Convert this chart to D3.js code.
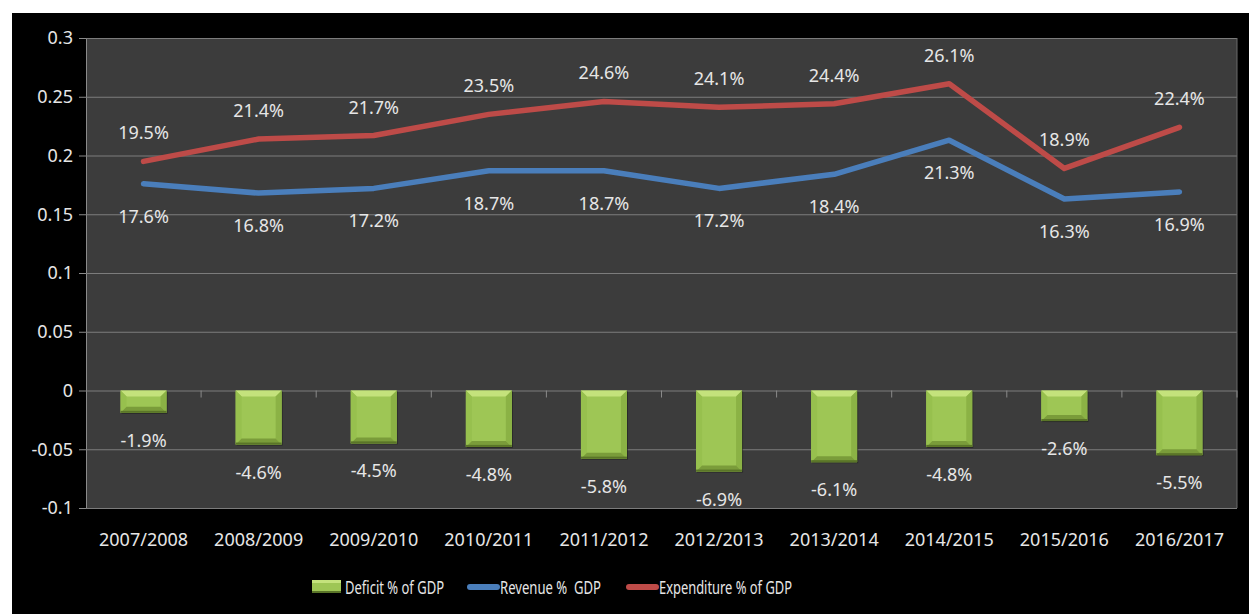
<!DOCTYPE html>
<html lang="en">
<head>
<meta charset="UTF-8">
<script src="https://d3js.org/d3.v7.min.js"></script>
<title>Deficit, Revenue and Expenditure % of GDP</title>
<style>
  body { margin: 0; background: #fff; }
  text { font-family: "Noto Sans", "Open Sans", sans-serif; fill: #e6e6e6; }
</style>
</head>
<body>
<div id="chart"></div>
<script>
// data
const years = ["2007/2008", "2008/2009", "2009/2010", "2010/2011", "2011/2012",
               "2012/2013", "2013/2014", "2014/2015", "2015/2016", "2016/2017"];
const deficit = [-1.9, -4.6, -4.5, -4.8, -5.8, -6.9, -6.1, -4.8, -2.6, -5.5];
const revenue = [17.6, 16.8, 17.2, 18.7, 18.7, 17.2, 18.4, 21.3, 16.3, 16.9];
const expenditure = [19.5, 21.4, 21.7, 23.5, 24.6, 24.1, 24.4, 26.1, 18.9, 22.4];
const yTicks = [-0.1, -0.05, 0, 0.05, 0.1, 0.15, 0.2, 0.25, 0.3];

const W = 1249, H = 614;
const margin = { top: 38, right: 12, bottom: 106, left: 86 };
const width = 1237 - margin.left;
const height = 508 - margin.top;

const svg = d3.select("#chart").append("svg")
    .attr("width", W).attr("height", H);

// black frame
svg.append("rect").attr("x", 12).attr("y", 13).attr("width", W - 12).attr("height", H - 13).attr("fill", "#000");

const g = svg.append("g").attr("transform", `translate(${margin.left},${margin.top})`);

const x = d3.scaleBand().domain(years).range([0, width]);
const y = d3.scaleLinear().domain([-0.1, 0.3]).range([height, 0]);

g.append("rect").attr("width", width).attr("height", height).attr("fill", "#3c3c3c");

// gridlines + y axis
const yAxis = g.append("g")
    .call(d3.axisLeft(y).tickValues(yTicks).tickSize(7).tickPadding(6).tickFormat(d => String(+d.toFixed(2))));
yAxis.select(".domain").attr("stroke", "#8a8a8a");
yAxis.selectAll(".tick line").attr("stroke", "#8a8a8a");
yAxis.selectAll(".tick text").attr("fill", "#e6e6e6").style("font-size", "18px");
yAxis.selectAll(".tick").append("line")
    .attr("x1", 0).attr("x2", width).attr("stroke", "#7c7c7c").attr("stroke-width", 1);
g.append("line").attr("x1", width).attr("x2", width).attr("y1", 0).attr("y2", height).attr("stroke", "#6a6a6a");

// category tick marks on zero line
g.selectAll(".ctick").data(years)
  .enter().append("line")
    .attr("x1", (d, i) => (i + 1) * x.step()).attr("x2", (d, i) => (i + 1) * x.step())
    .attr("y1", y(0)).attr("y2", y(0) + 7)
    .attr("stroke", "#8a8a8a");

// x labels
g.selectAll(".xlab").data(years).enter().append("text")
    .attr("x", d => x(d) + x.bandwidth() / 2)
    .attr("y", height + 38)
    .attr("text-anchor", "middle")
    .style("font-size", "18px")
    .text(d => d);

// bevelled bars
const barW = 46, bev = 6;
const bars = g.selectAll(".bar").data(deficit).enter().append("g").attr("class", "bar");
bars.each(function (d, i) {
  const x0 = x(years[i]) + x.bandwidth() / 2 - barW / 2, x1 = x0 + barW;
  const y0 = y(0), y1 = y(d / 100);
  const s = d3.select(this);
  s.append("rect").attr("x", x0 + 1).attr("y", y0 + 1).attr("width", barW).attr("height", y1 - y0)
    .attr("fill", "#1a1a1a").attr("opacity", 0.6);
  s.append("rect").attr("x", x0).attr("y", y0).attr("width", barW).attr("height", y1 - y0).attr("fill", "#9ec655");
  const poly = (pts, c) => s.append("polygon").attr("points", pts.map(p => p.join(",")).join(" ")).attr("fill", c);
  poly([[x0, y0], [x1, y0], [x1 - bev, y0 + bev], [x0 + bev, y0 + bev]], "#c4e27c");
  poly([[x0, y0], [x0 + bev, y0 + bev], [x0 + bev, y1 - bev], [x0, y1]], "#97c04e");
  poly([[x1, y0], [x1 - bev, y0 + bev], [x1 - bev, y1 - bev], [x1, y1]], "#8bb245");
  poly([[x0, y1], [x0 + bev, y1 - bev], [x1 - bev, y1 - bev], [x1, y1]], "#7a9c3a");
  s.append("rect").attr("x", x0).attr("y", y1 - 2).attr("width", barW).attr("height", 2).attr("fill", "#5a7528");
});
g.selectAll(".blab").data(deficit).enter().append("text")
    .attr("x", (d, i) => x(years[i]) + x.bandwidth() / 2)
    .attr("y", d => y(d / 100) + 34)
    .attr("text-anchor", "middle").style("font-size", "18px")
    .text(d => d.toFixed(1) + "%");

// lines
const line = d3.line().x((d, i) => x(years[i]) + x.bandwidth() / 2).y(d => y(d / 100));
const series = [
  { vals: revenue, color: "#4a7ebb", dy: 39 },
  { vals: expenditure, color: "#be4b48", dy: -22 }
];
series.forEach(s => {
  g.append("path").datum(s.vals).attr("d", line)
    .attr("fill", "none").attr("stroke", s.color).attr("stroke-width", 5.5)
    .attr("stroke-linecap", "round").attr("stroke-linejoin", "round");
  g.selectAll(null).data(s.vals).enter().append("text")
    .attr("x", (d, i) => x(years[i]) + x.bandwidth() / 2)
    .attr("y", d => y(d / 100) + s.dy)
    .attr("text-anchor", "middle").style("font-size", "18px")
    .text(d => d.toFixed(1) + "%");
});

// legend
const legend = svg.append("g").attr("class", "legend");
const legY = 587;
const items = [
  { x: 312, label: "Deficit % of GDP", w: 99, type: "bar" },
  { x: 467, label: "Revenue %  GDP", w: 101, type: "line", color: "#4a7ebb" },
  { x: 626, label: "Expenditure % of GDP", w: 133, type: "line", color: "#be4b48" }
];
items.forEach(it => {
  if (it.type === "bar") {
    legend.append("rect").attr("x", it.x).attr("y", legY - 7).attr("width", 29).attr("height", 13).attr("fill", "#9ec655");
    legend.append("rect").attr("x", it.x).attr("y", legY - 7).attr("width", 29).attr("height", 3).attr("fill", "#c4e27c");
    legend.append("rect").attr("x", it.x).attr("y", legY + 4).attr("width", 29).attr("height", 2).attr("fill", "#5a7528");
  } else {
    legend.append("line").attr("x1", it.x + 3).attr("x2", it.x + 30).attr("y1", legY).attr("y2", legY)
      .attr("stroke", it.color).attr("stroke-width", 6).attr("stroke-linecap", "round");
  }
  legend.append("text").attr("x", it.x + 33).attr("y", legY + 7)
    .attr("xml:space", "preserve")
    .attr("textLength", it.w).attr("lengthAdjust", "spacingAndGlyphs")
    .style("font-size", "18px").text(it.label);
});
</script>
</body>
</html>
